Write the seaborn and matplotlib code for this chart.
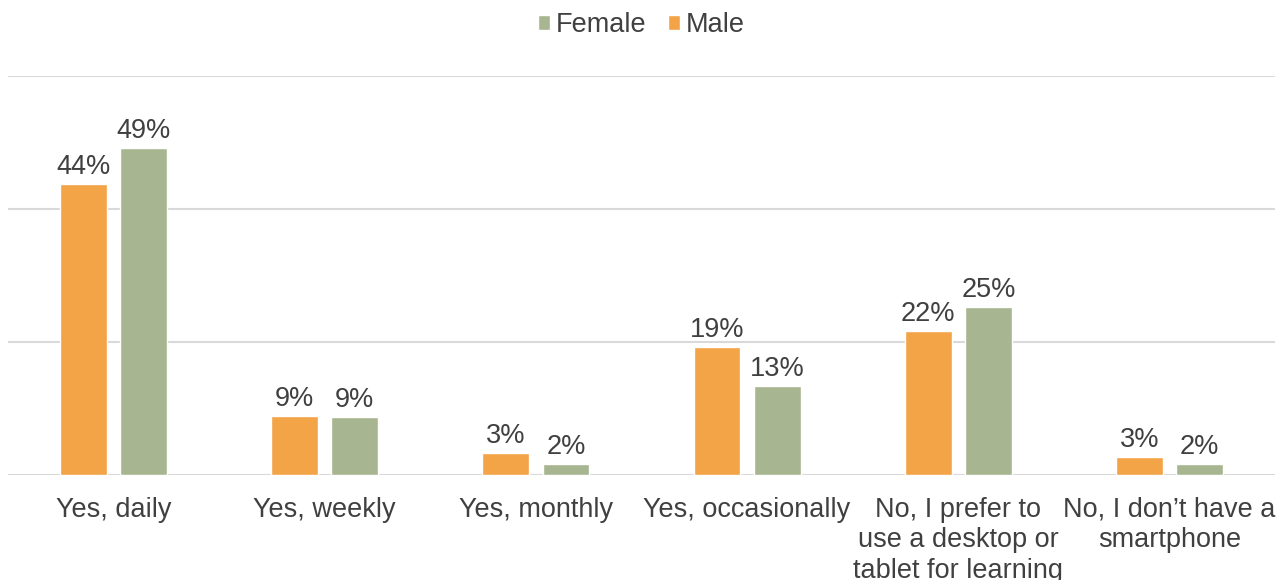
import matplotlib
matplotlib.use("Agg")
import matplotlib.pyplot as plt
import seaborn as sns
import pandas as pd
from matplotlib.patches import Patch

categories = ["Yes, daily", "Yes, weekly", "Yes, monthly", "Yes, occasionally",
              "No, I prefer to\nuse a desktop or\ntablet for learning",
              "No, I don\u2019t have a\nsmartphone"]
male = [43.8, 8.9, 3.3, 19.2, 21.7, 2.75]
female = [49.1, 8.7, 1.6, 13.4, 25.3, 1.6]
series = ["Male", "Female"]
colors = {"Male": "#F2A447", "Female": "#A7B591"}

df = pd.DataFrame({
    "category": categories * 2,
    "gender": ["Male"] * len(categories) + ["Female"] * len(categories),
    "value": male + female,
})

sns.set_theme(style="white")
plt.rcParams['font.family'] = ['Liberation Sans', 'DejaVu Sans']
text_color = "#404040"
fs = 19.5

fig = plt.figure(figsize=(12.82, 5.8), dpi=100)
ax = fig.add_axes([8 / 1282, 105 / 580, 1267 / 1282, (475 - 76) / 580])

sns.barplot(data=df, x="category", y="value", hue="gender", hue_order=series,
            order=categories, palette=colors, width=0.57, gap=0.22,
            ax=ax, legend=False, saturation=1)

ax.set_ylim(0, 60)
ax.set_yticks([0, 20, 40, 60])
ax.set_yticklabels([])
ax.yaxis.grid(True, color="#D9D9D9", linewidth=1.5)
ax.set_axisbelow(True)
for s in ["top", "right", "left", "bottom"]:
    ax.spines[s].set_visible(False)
ax.tick_params(axis="both", length=0)
ax.tick_params(axis="x", pad=15.5, labelsize=fs, labelcolor=text_color)
for lbl in ax.get_xticklabels():
    lbl.set_linespacing(1.24)
ax.set_xlabel("")
ax.set_ylabel("")

for cont in ax.containers:
    ax.bar_label(cont, fmt="%.0f%%", padding=3, fontsize=fs, color=text_color)

handles = [Patch(facecolor=colors["Female"], label="Female"),
           Patch(facecolor=colors["Male"], label="Male")]
fig.legend(handles=handles, loc="center", bbox_to_anchor=(0.5, 1 - 25 / 580),
           ncol=2, frameon=False, fontsize=fs, handlelength=0.45, handleheight=0.45,
           handletextpad=0.2, columnspacing=0.8, labelcolor=text_color)

fig.savefig("out.png", dpi=100)
